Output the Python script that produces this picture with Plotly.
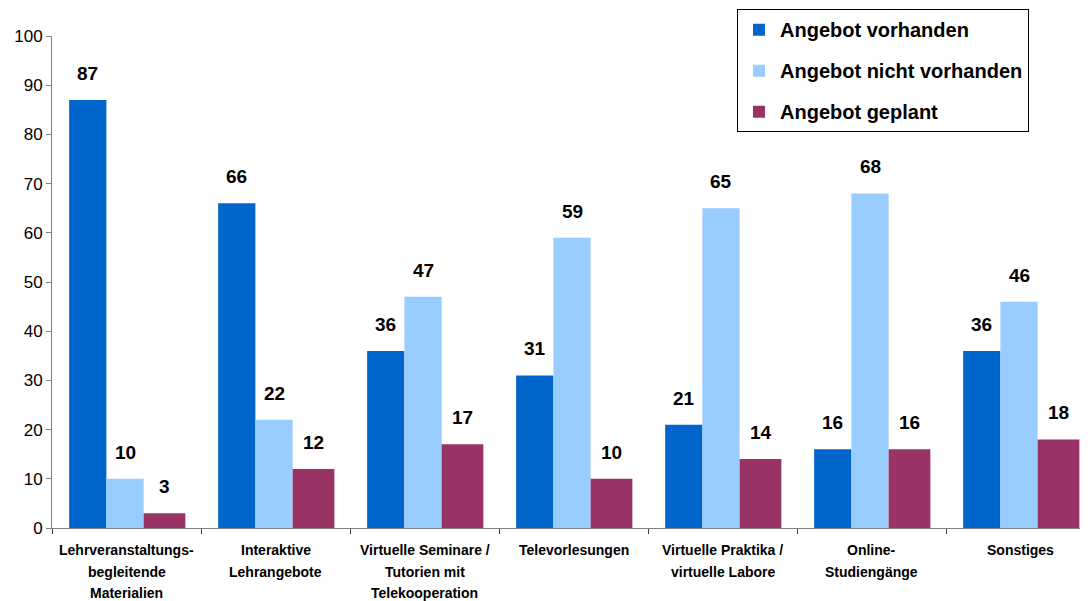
import plotly.graph_objects as go

categories = [
    "Lehrveranstaltungs-<br>begleitende<br>Materialien",
    "Interaktive<br>Lehrangebote",
    "Virtuelle Seminare /<br>Tutorien mit<br>Telekooperation",
    "Televorlesungen",
    "Virtuelle Praktika /<br>virtuelle Labore",
    "Online-<br>Studiengänge",
    "Sonstiges",
]
vorhanden = [87, 66, 36, 31, 21, 16, 36]
nicht_vorhanden = [10, 22, 47, 59, 65, 68, 46]
geplant = [3, 12, 17, 10, 14, 16, 18]

series = [
    ("Angebot vorhanden", vorhanden, "#0066CC", -0.385, 0.25),
    ("Angebot nicht vorhanden", nicht_vorhanden, "#99CCFF", -0.135, 0.25),
    ("Angebot geplant", geplant, "#993366", 0.115, 0.28),
]

FONT = "Liberation Sans, Arial, sans-serif"

fig = go.Figure()
annotations = []
for name, vals, color, off, w in series:
    fig.add_trace(go.Bar(
        name=name,
        x=categories,
        y=vals,
        marker=dict(color=color, line=dict(width=0)),
        offset=off,
        width=w,
        legendgroup=name,
    ))
    # value labels above each bar
    for i, v in enumerate(vals):
        annotations.append(dict(
            x=i + off + w / 2, y=v, xref="x", yref="y",
            text=str(v), showarrow=False,
            yanchor="bottom", yshift=14,
            font=dict(family=FONT, size=19, color="black", weight="bold"),
        ))

# category labels drawn line by line to get the wider line spacing
for cat in categories:
    for k, line in enumerate(cat.split("<br>")):
        annotations.append(dict(
            x=cat, y=0, xref="x", yref="paper",
            text=line, showarrow=False,
            yanchor="middle", yshift=-22 - 21.5 * k,
            font=dict(family=FONT, size=14, color="black", weight="bold"),
        ))

# page body adds an 8px margin, so the figure is 8px smaller and shifted
fig.update_layout(
    width=1080, height=593,
    barmode="overlay",
    plot_bgcolor="white", paper_bgcolor="white",
    margin=dict(l=44, r=0, t=28, b=73, autoexpand=False),
    font=dict(family=FONT, color="black"),
    annotations=annotations,
    legend=dict(
        x=0.675, y=0.998, xref="container", yref="container",
        xanchor="left", yanchor="top",
        bordercolor="black", borderwidth=1, bgcolor="white",
        font=dict(family=FONT, size=20, weight="bold"),
        tracegroupgap=12,
        itemwidth=32,
        entrywidth=283,
    ),
)
fig.update_xaxes(
    range=[-0.5, 6.453],
    showline=True, linecolor="#808080", linewidth=1,
    ticks="outside", tickson="boundaries", ticklen=5, tickcolor="#404040",
    showticklabels=False,
    showgrid=False,
)
fig.update_yaxes(
    range=[0, 100], dtick=10,
    showline=True, linecolor="#808080", linewidth=1,
    ticks="outside", ticklen=5, tickcolor="#808080",
    tickfont=dict(family=FONT, size=17),
    showgrid=False, zeroline=False,
)

fig.write_html("out.html")
